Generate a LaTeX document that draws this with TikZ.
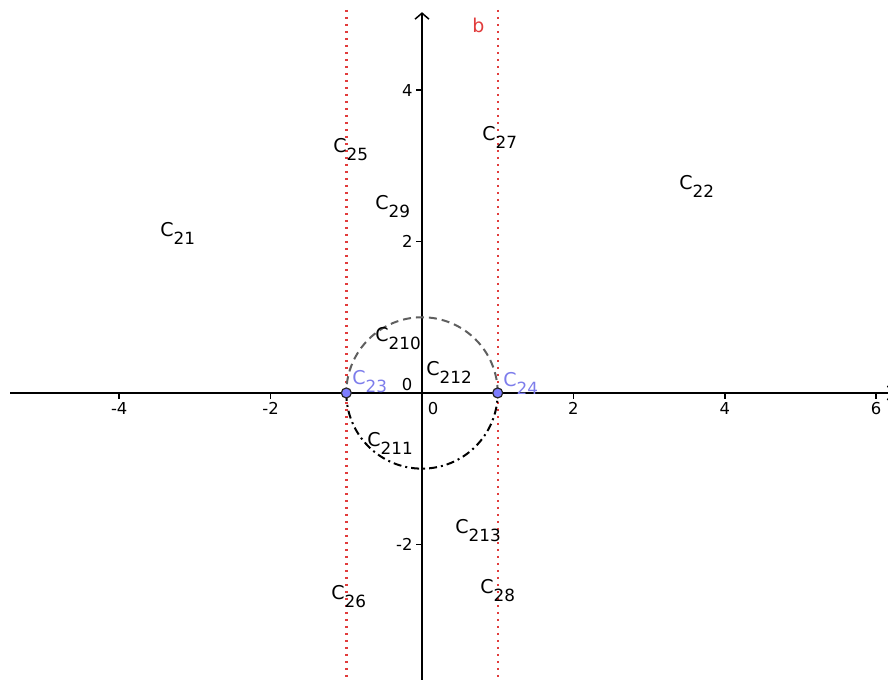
\documentclass[tikz,border=0pt]{standalone}
\usepackage{fontspec}
\setmainfont{DejaVu Sans}
\usetikzlibrary{arrows.meta}
\definecolor{ptblue}{RGB}{125,125,255}
\definecolor{lblblue}{RGB}{125,125,235}
\definecolor{linered}{RGB}{225,60,60}
\definecolor{circgray}{RGB}{95,95,95}
\newcommand{\clab}[2]{{\fontsize{9.5}{11}\selectfont #1\raisebox{-4pt}{\fontsize{8.4}{10}\selectfont #2}}}
\tikzset{
  axis/.style={line width=0.75pt, black},
  tick/.style={line width=0.75pt, black},
  ticklbl/.style={font=\fontsize{8.2}{9}\selectfont, inner sep=0pt},
  clbl/.style={anchor=base west, inner sep=0pt},
  redline/.style={linered, line width=1.2pt, dash pattern=on 1.1pt off 2.4pt},
  pt/.style={circle, fill=ptblue, draw=black!85, line width=0.6pt, minimum size=5pt, inner sep=0pt},
}
\begin{document}
\begin{tikzpicture}[x=37.85pt,y=37.85pt]
\useasboundingbox (-5.575,-3.791) rectangle (6.156,5.191);
% axes
\coordinate (xl) at (-5.44,0);
\coordinate (xr) at (6.24,0);
\coordinate (yb) at (0,-3.85);
\coordinate (yt) at (0,5.03);
\draw[axis,-{Straight Barb[length=3pt,width=7pt]}] (xl) -- (xr);
\draw[axis,-{Straight Barb[length=3pt,width=7pt]}] (yb) -- (yt);
% ticks
\foreach \x in {-4,-2,2,4,6} {
  \draw[tick] (\x,0) -- (\x,-0.075);
  \node[ticklbl,anchor=north] (tx\x) at (\x,-0.12) {\x};
}
\foreach \y in {-2,2,4} {
  \draw[tick] (0,\y) -- (-0.075,\y);
  \node[ticklbl,anchor=east] (ty\y) at (-0.12,\y) {\y};
}
\node[ticklbl] (zx) at (0.145,-0.211) {0};
\node[ticklbl] (zy) at (-0.198,0.106) {0};
% red vertical lines
\draw[redline] (-1,5.06) -- (-1,-3.85);
\draw[redline] (1,5.06) -- (1,-3.85);
\node[clbl, text=linered, font=\fontsize{9.5}{11}\selectfont] (b) at (0.661,4.756) {b};
% circle halves
\draw[circgray, line width=1pt, dash pattern=on 4pt off 2.5pt] (1,0) arc[start angle=0,end angle=180,radius=1];
\draw[black, line width=1pt, dash pattern=on 4pt off 2pt on 1pt off 2pt] (-1,0) arc[start angle=180,end angle=360,radius=1];
% points
\node[pt] (p23) at (-1,0) {};
\node[pt] (p24) at (1,0) {};
% labels
\node[clbl] (c25) at (-1.176,3.177) {\clab{C}{25}};
\node[clbl] (c27) at (0.793,3.336) {\clab{C}{27}};
\node[clbl] (c22) at (3.395,2.688) {\clab{C}{22}};
\node[clbl] (c29) at (-0.621,2.424) {\clab{C}{29}};
\node[clbl] (c21) at (-3.461,2.067) {\clab{C}{21}};
\node[clbl] (c210) at (-0.621,0.680) {\clab{C}{210}};
\node[clbl] (c212) at (0.053,0.231) {\clab{C}{212}};
\node[clbl, text=lblblue] (c23) at (-0.925,0.112) {\clab{C}{23}};
\node[clbl, text=lblblue] (c24) at (1.070,0.086) {\clab{C}{24}};
\node[clbl] (c211) at (-0.727,-0.707) {\clab{C}{211}};
\node[clbl] (c213) at (0.436,-1.856) {\clab{C}{213}};
\node[clbl] (c26) at (-1.202,-2.728) {\clab{C}{26}};
\node[clbl] (c28) at (0.766,-2.649) {\clab{C}{28}};
\end{tikzpicture}
\end{document}
